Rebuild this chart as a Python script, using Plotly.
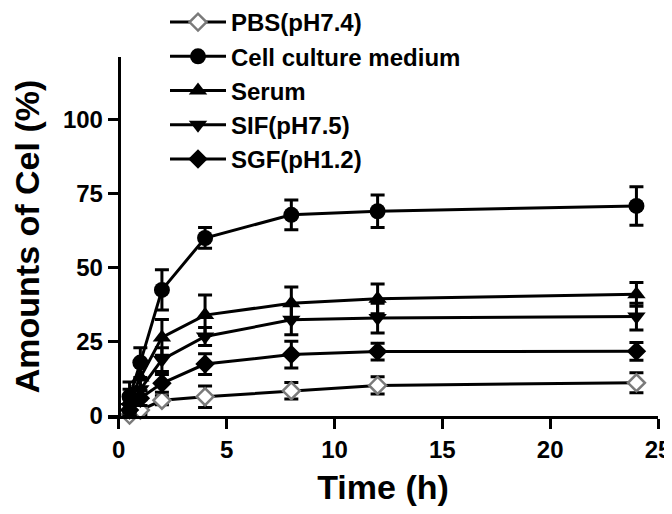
import plotly.graph_objects as go

# ---- data ----
time_h = [0.5, 1, 2, 4, 8, 12, 24]

series_names = ["PBS(pH7.4)", "Cell culture medium", "Serum", "SIF(pH7.5)", "SGF(pH1.2)"]

pbs = [0.3, 2.0, 5.3, 6.5, 8.5, 10.3, 11.2]
pbs_err = [1.0, 1.5, 1.5, 3.6, 2.8, 2.9, 3.4]

cell = [6.5, 18.0, 42.5, 60.0, 67.8, 69.0, 70.8]
cell_err = [5.0, 5.0, 6.8, 3.5, 5.0, 5.5, 6.5]

serum = [5.0, 13.0, 26.5, 34.0, 38.0, 39.5, 41.0]
serum_err = [4.0, 4.5, 6.0, 6.8, 5.5, 5.0, 4.0]

sif = [3.0, 9.0, 19.0, 26.8, 32.4, 33.0, 33.5]
sif_err = [3.0, 3.5, 4.0, 3.0, 5.0, 5.0, 4.5]

sgf = [2.0, 6.0, 11.0, 17.5, 20.7, 21.7, 21.8]
sgf_err = [2.0, 2.5, 3.0, 3.5, 4.5, 2.8, 3.0]

x_ticks = [0, 5, 10, 15, 20, 25]
y_ticks = [0, 25, 50, 75, 100]

FONT = "Liberation Sans, Arial, sans-serif"

styles = [
    dict(symbol="diamond", color="white", line=dict(color="#7a7a7a", width=2.5)),
    dict(symbol="circle", color="black", line=dict(color="black", width=0)),
    dict(symbol="triangle-up", color="black", line=dict(color="black", width=0)),
    dict(symbol="triangle-down", color="black", line=dict(color="black", width=0)),
    dict(symbol="diamond", color="black", line=dict(color="black", width=0)),
]
values = [pbs, cell, serum, sif, sgf]
errors = [pbs_err, cell_err, serum_err, sif_err, sgf_err]
sizes = [13, 16, 16, 16, 15]

L, R, T, B = 100, 22, 49, 106
plot_w = 672 - L - R
plot_h = 514 - T - B

fig = go.Figure()
for i, (name, yv, ev) in enumerate(zip(series_names, values, errors)):
    st = styles[i]
    fig.add_trace(go.Scatter(
        x=time_h, y=yv, name=name, mode="lines+markers",
        line=dict(color="black", width=3),
        marker=dict(symbol=st["symbol"], size=sizes[i], color=st["color"], line=st["line"]),
        error_y=dict(type="data", array=ev, visible=True, color="black", thickness=3, width=7),
        cliponaxis=False,
    ))

fig.update_layout(
    width=672, height=514,
    margin=dict(l=L, r=R, t=T, b=B, autoexpand=False),
    paper_bgcolor="white", plot_bgcolor="white",
    font=dict(family=FONT, size=24, color="black"),
    showlegend=True,
    legend=dict(
        x=(157 - L) / plot_w, y=1 + (T + 8) / plot_h, xanchor="left", yanchor="top",
        bgcolor="rgba(0,0,0,0)",
        font=dict(family=FONT, size=24, color="black", weight="bold"),
        tracegroupgap=0,
        itemwidth=56,
    ),
    xaxis=dict(
        range=[-0.5, 25], tickvals=x_ticks, ticktext=[str(v) for v in x_ticks],
        showline=True, linecolor="black", linewidth=3,
        ticks="outside", ticklen=10, tickwidth=3, tickcolor="black",
        showgrid=False, zeroline=False,
        tickfont=dict(family=FONT, size=24, color="black", weight="bold"),
        title=dict(text="Time (h)", font=dict(family=FONT, size=34, color="black", weight="bold"), standoff=14),
    ),
    yaxis=dict(
        range=[0, 121], tickvals=y_ticks, ticktext=[str(v) for v in y_ticks],
        anchor="free", position=0.5 / 25.5,
        showline=True, linecolor="black", linewidth=3,
        ticks="outside", ticklen=10, tickwidth=3, tickcolor="black",
        showgrid=False, zeroline=False,
        tickfont=dict(family=FONT, size=24, color="black", weight="bold"),
        title=dict(text="Amounts of Cel (%)", font=dict(family=FONT, size=34, color="black", weight="bold"), standoff=17),
    ),
)

fig.write_html("out.html")
